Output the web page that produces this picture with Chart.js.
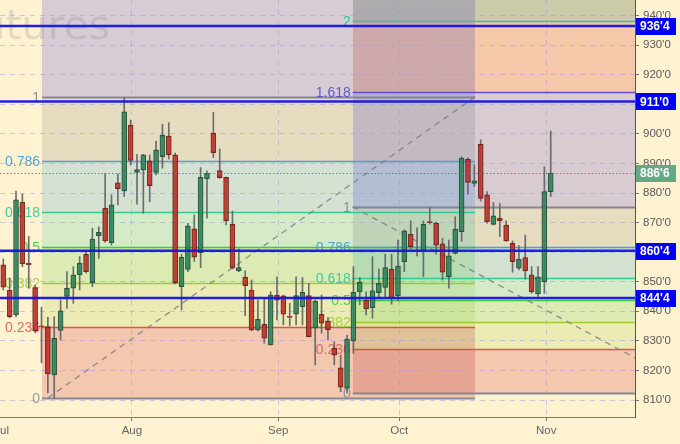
<!DOCTYPE html>
<html><head><meta charset="utf-8">
<script src="https://cdn.jsdelivr.net/npm/chart.js@4.4.0/dist/chart.umd.min.js"></script>
<style>html,body{margin:0;padding:0;background:#FFF2CF;overflow:hidden}</style>
</head><body>
<canvas id="c" width="680" height="444" style="display:block;width:680px;height:444px"></canvas>
<script>
// ---- data ----
const opens  = [855.7,847.2,838.8,876.9,856.2,848.0,835.1,834.8,818.5,833.5,845.0,847.8,852.3,859.3,849.7,865.6,874.9,863.2,883.5,880.7,903.0,887.0,887.8,890.9,887.0,892.3,899.3,892.9,848.3,854.2,867.9,859.8,884.8,900.3,887.6,885.3,869.4,853.7,851.6,847.2,833.7,835.6,828.6,845.5,845.2,838.3,839.0,841.6,845.3,834.3,839.0,836.8,827.5,820.9,814.0,830.0,846.6,843.8,841.2,846.3,848.1,854.3,845.2,856.8,866.1,860.6,860.4,870.2,869.8,862.8,851.7,859.6,866.9,891.4,883.3,896.5,879.4,869.4,871.5,869.2,863.0,854.6,858.2,852.3,845.9,850.0,880.5];
const highs  = [857.7,851.3,880.7,879.7,865.3,848.9,841.4,838.0,838.2,843.8,853.4,855.1,858.5,860.2,868.1,868.6,886.7,879.4,886.4,912.3,904.7,893.1,893.1,892.9,897.6,903.3,903.8,893.5,859.3,869.8,872.6,888.6,887.5,907.3,894.9,885.4,873.9,861.1,853.7,850.6,843.8,844.4,846.6,851.7,845.5,842.7,851.7,851.4,849.5,843.8,845.5,837.9,829.7,825.2,832.0,855.1,851.4,846.6,858.5,854.3,859.3,859.3,864.1,867.5,870.6,868.2,870.6,875.1,870.2,864.7,864.1,872.0,892.3,891.9,889.5,898.0,880.5,876.8,876.5,870.6,863.8,862.2,865.8,855.1,855.1,888.9,901.0];
const lows   = [847.2,837.8,838.1,855.1,847.8,832.7,822.6,812.4,810.6,830.3,841.0,842.7,847.2,852.9,848.3,857.9,863.4,862.4,876.0,878.8,889.5,876.2,873.2,877.1,886.1,888.4,891.5,849.3,840.5,853.4,856.8,854.8,871.5,892.0,885.0,869.2,854.3,853.4,838.5,833.4,833.4,829.2,828.6,837.1,835.4,835.1,835.4,835.4,831.3,821.9,832.6,830.3,821.9,812.8,812.4,825.8,842.2,838.8,837.7,844.2,844.8,842.4,843.5,853.4,861.0,858.7,851.7,869.5,859.3,850.6,847.8,859.4,863.6,879.6,882.2,877.3,869.8,869.2,865.3,863.6,853.2,854.0,850.9,846.1,845.0,846.1,878.8];
const closes = [848.2,838.2,877.7,856.0,855.8,833.4,834.7,818.8,830.9,840.2,847.8,852.3,856.3,853.4,864.4,866.7,863.8,876.0,881.4,907.5,891.0,887.9,892.9,882.5,894.6,899.6,892.9,849.7,858.3,868.9,858.3,885.3,886.7,893.7,885.2,870.6,854.6,854.8,848.7,833.7,837.3,830.9,845.5,843.8,839.0,837.9,845.3,846.4,831.4,843.5,836.0,833.7,825.2,814.3,830.6,846.4,849.8,840.8,846.9,849.5,854.8,844.4,855.3,867.2,861.9,860.4,869.4,870.0,862.4,853.2,858.8,867.8,891.8,883.6,884.1,878.2,870.3,872.3,870.7,863.8,856.8,857.6,853.7,846.6,851.7,880.5,886.75];

const monthLabels = ['Jul','Aug','Sep','Oct','Nov'];
const monthTicks  = [-0.25, 20.2, 43.2, 62.2, 85.3];
const yTicks = [810,820,830,840,850,860,870,880,890,900,910,920,930,940];

const fibLevels = [0,0.236,0.382,0.5,0.618,0.786,1,1.618,2];
const fibLabels = ['0','0.236','0.382','0.5','0.618','0.786','1','1.618','2'];
const fibLineColors = ['rgba(125,125,140,0.9)','rgba(215,75,60,0.9)','rgba(150,205,40,0.95)','rgba(50,200,50,0.95)','rgba(40,200,150,0.95)','rgba(70,155,220,0.95)','rgba(125,125,140,0.9)','rgba(85,75,205,0.95)','rgba(40,200,150,0.95)'];
const fibTextColors = ['rgba(140,140,150,0.9)','rgba(225,85,85,0.85)','rgba(150,205,50,0.85)','rgba(45,205,60,0.85)','rgba(40,195,150,0.85)','rgba(65,155,215,0.9)','rgba(130,130,140,0.9)','rgba(80,75,205,0.9)','rgba(35,195,150,0.9)'];
const zoneColors = [[243,200,175],[237,235,180],[220,235,180],[213,235,200],[213,226,210],[230,220,192],[216,204,212],[244,200,168],[204,203,170]];
const cream = [255,242,208];

const fibA = {low:810.7, high:912.5, from:6.08, to:74.1, trend:[[7.0,810.7],[74.1,912.5]]};
const fibB = {low:812.4, high:875.3, from:54.9, to:99.3, trend:[[54.9,875.3],[99.3,824.2]]};

const keyLevels = [936.5, 911.0, 860.5, 844.5];
const lastPrice = 886.75;

// ---- helpers ----
function fmt(v){const f=Math.floor(v+1e-9);return f+"'"+Math.round((v-f)*8);}
const X=(ch,v)=>ch.scales.x.getPixelForValue(v);
const Y=(ch,v)=>ch.scales.y.getPixelForValue(v);

function drawZones(ch,fib,mult){
  const ctx=ch.ctx,a=ch.chartArea;
  const x0=Math.round(Math.max(a.left,X(ch,fib.from))), x1=Math.round(Math.min(a.right,X(ch,fib.to)));
  const vals=fibLevels.map(l=>fib.low+l*(fib.high-fib.low));
  ctx.save();ctx.beginPath();ctx.rect(a.left,a.top,a.right-a.left,a.bottom-a.top);ctx.clip();
  if(mult)ctx.globalCompositeOperation='multiply';
  for(let k=0;k<zoneColors.length;k++){
    const vLo=vals[k], vHi=(k+1<vals.length)?vals[k+1]:ch.scales.y.max+50;
    const yT=Math.round(Math.max(a.top,Y(ch,vHi))), yB=Math.round(Math.min(a.bottom,Y(ch,vLo)));
    if(yB<=yT)continue;
    let c=zoneColors[k];
    if(mult)c=c.map((q,j)=>Math.min(255,Math.round(q*255/cream[j])));
    ctx.fillStyle='rgb('+c.join(',')+')';
    ctx.fillRect(x0,yT,x1-x0,yB-yT);
  }
  ctx.restore();
}
function drawFibLines(ch,fib){
  const ctx=ch.ctx,a=ch.chartArea;
  const x0=Math.max(a.left,X(ch,fib.from)), x1=Math.min(a.right,X(ch,fib.to));
  ctx.save();ctx.beginPath();ctx.rect(a.left-60,a.top,a.right-a.left+60,a.bottom-a.top);ctx.clip();
  fibLevels.forEach((l,k)=>{
    const y=Math.round(Y(ch,fib.low+l*(fib.high-fib.low)))+0.5;
    if(y<a.top||y>a.bottom)return;
    ctx.strokeStyle=fibLineColors[k];ctx.lineWidth=(k===0||k===6)?2:1.5;
    ctx.beginPath();ctx.moveTo(x0,y);ctx.lineTo(x1,y);ctx.stroke();
    ctx.fillStyle=fibTextColors[k];ctx.font='14px "Liberation Sans", Arial, sans-serif';
    ctx.textAlign='right';ctx.textBaseline='middle';
    ctx.fillText(fibLabels[k],x0-2,y+1);
  });
  ctx.strokeStyle='rgba(125,125,135,0.85)';ctx.lineWidth=1.3;ctx.setLineDash([6,5]);
  ctx.beginPath();ctx.moveTo(X(ch,fib.trend[0][0]),Y(ch,fib.trend[0][1]));ctx.lineTo(X(ch,fib.trend[1][0]),Y(ch,fib.trend[1][1]));ctx.stroke();
  ctx.restore();
}
function tag(ctx,x,y,text,color){
  ctx.fillStyle=color;ctx.fillRect(x,Math.round(y-8),40,17);
  ctx.fillStyle='#fff';ctx.font='bold 12px "Liberation Sans", Arial, sans-serif';
  ctx.textAlign='left';ctx.textBaseline='middle';ctx.fillText(text,x+4,y+1);
}

const overlay={
  id:'overlay',
  beforeDraw(ch){
    const ctx=ch.ctx;
    ctx.save();ctx.fillStyle='rgb('+cream.join(',')+')';ctx.fillRect(0,0,ch.width,ch.height);ctx.restore();
    drawZones(ch,fibA,false);
    drawZones(ch,fibB,true);
    ctx.save();ctx.fillStyle='rgba(120,110,150,0.2)';ctx.font='41px "DejaVu Sans", sans-serif';
    ctx.textAlign='right';ctx.textBaseline='alphabetic';ctx.fillText('Futures',110,39);ctx.restore();
  },
  beforeDatasetsDraw(ch){
    drawFibLines(ch,fibA);
    drawFibLines(ch,fibB);
  },
  afterDatasetsDraw(ch){
    const ctx=ch.ctx,a=ch.chartArea;
    ctx.save();
    const yp=Math.round(Y(ch,lastPrice))+0.5;
    ctx.strokeStyle='rgba(70,135,135,0.9)';ctx.lineWidth=1;ctx.setLineDash([1.5,2]);
    ctx.beginPath();ctx.moveTo(a.left,yp);ctx.lineTo(a.right,yp);ctx.stroke();
    ctx.setLineDash([]);
    keyLevels.forEach(v=>{
      const y=Y(ch,v);
      ctx.strokeStyle='rgba(20,20,230,0.95)';ctx.lineWidth=2.5;
      ctx.beginPath();ctx.moveTo(a.left,y);ctx.lineTo(a.right,y);ctx.stroke();
    });
    keyLevels.forEach(v=>tag(ctx,a.right+1,Y(ch,v),fmt(v),'#0000F2'));
    tag(ctx,a.right+1,Y(ch,lastPrice),fmt(lastPrice),'#62AA84');
    ctx.restore();
  }
};

const up=i=>closes[i]>=opens[i];
const wickData=highs.map((h,i)=>({x:i,y:[lows[i],h]}));
const bodyData=opens.map((o,i)=>({x:i,y:[o,closes[i]]}));
const gridCol='rgba(150,155,220,0.5)';

new Chart(document.getElementById('c'),{
  type:'bar',
  data:{datasets:[
    {data:bodyData,barThickness:5,grouped:false,order:0,minBarLength:1,borderSkipped:false,borderWidth:1,
     backgroundColor:c=>up(c.dataIndex)?'rgba(45,140,95,0.78)':'rgba(208,45,35,0.75)',
     borderColor:c=>up(c.dataIndex)?'rgba(25,65,45,0.85)':'rgba(95,20,15,0.85)'},
    {data:wickData,barThickness:1,grouped:false,order:1,borderWidth:0,backgroundColor:'rgba(95,95,100,0.9)'}
  ]},
  options:{
    responsive:false,animation:false,devicePixelRatio:1,
    layout:{padding:0},
    plugins:{legend:{display:false},tooltip:{enabled:false}},
    scales:{
      x:{type:'linear',min:-0.518,max:99.24,offset:false,
        afterBuildTicks:s=>{s.ticks=monthTicks.map(v=>({value:v}));},
        afterFit:s=>{s.height=27;s.paddingLeft=0;s.paddingRight=0;},
        grid:{offset:false,color:c=>c.index===0?'rgba(0,0,0,0)':gridCol,tickColor:c=>c.index===0?'rgba(0,0,0,0)':'#777',tickLength:4,lineWidth:1},
        border:{display:true,color:'#7a7a7a',width:1,dash:[5,5]},
        ticks:{autoSkip:false,maxRotation:0,padding:3,color:'#666',font:{size:11.5,family:'"Liberation Sans", Arial, sans-serif'},
          callback:(v,i)=>monthLabels[i]}
      },
      y:{type:'linear',position:'right',min:804.25,max:945.3,
        afterBuildTicks:s=>{s.ticks=yTicks.map(v=>({value:v}));},
        afterFit:s=>{s.width=45;s.paddingTop=0;s.paddingBottom=0;},
        grid:{offset:false,color:gridCol,tickColor:'#777',tickLength:4,lineWidth:1},
        border:{display:true,color:'#555',width:1,dash:[5,5]},
        ticks:{padding:4,color:'#5a5a5a',font:{size:11.5,family:'"Liberation Sans", Arial, sans-serif'},callback:v=>fmt(v)}
      }
    }
  },
  plugins:[overlay]
});
</script>
</body></html>
